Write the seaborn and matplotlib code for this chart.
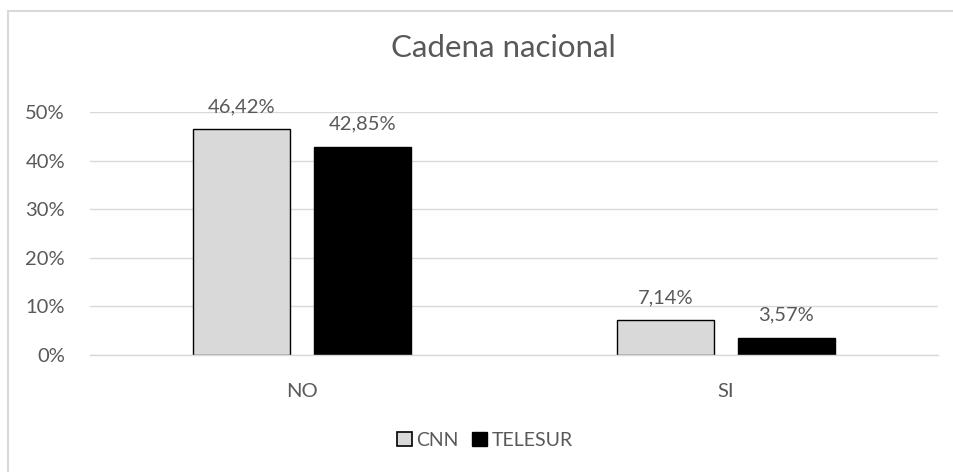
import pandas as pd
import matplotlib.pyplot as plt
import seaborn as sns
from matplotlib.lines import Line2D
from matplotlib.patches import Patch

# data
categories = ['NO', 'SI']
series = ['CNN', 'TELESUR']
cnn_vals = [46.42, 7.14]
telesur_vals = [42.85, 3.57]
label_text = {'CNN': ['46,42%', '7,14%'], 'TELESUR': ['42,85%', '3,57%']}
yticks = [0, 10, 20, 30, 40, 50]
ytick_labels = ['0%', '10%', '20%', '30%', '40%', '50%']

df = pd.DataFrame({
    'respuesta': categories * 2,
    'cadena': ['CNN'] * 2 + ['TELESUR'] * 2,
    'valor': cnn_vals + telesur_vals,
})

sns.set_theme(style='white')
plt.rcParams['font.family'] = ['Lato', 'DejaVu Sans']
txt = '#595959'
grid = '#d9d9d9'

fig = plt.figure(figsize=(9.54, 4.72), dpi=100)
ax = fig.add_axes([90 / 954, 1 - 355 / 472, 848 / 954, (355 - 112) / 472])

sns.barplot(data=df, x='respuesta', y='valor', hue='cadena', hue_order=series,
            palette={'CNN': '#d9d9d9', 'TELESUR': '#000000'},
            width=0.57, gap=0.2, edgecolor='black', linewidth=1.0,
            legend=False, ax=ax)

for cont, s in zip(ax.containers, series):
    ax.bar_label(cont, labels=label_text[s], padding=10, fontsize=14.5, color=txt)

ax.set_ylim(0, 50)
ax.set_yticks(yticks)
ax.set_yticklabels(ytick_labels)
ax.yaxis.grid(True, color=grid, linewidth=1)
ax.set_axisbelow(True)
for sp in ['top', 'right', 'left']:
    ax.spines[sp].set_visible(False)
ax.spines['bottom'].set_color(grid)
ax.spines['bottom'].set_linewidth(1)
ax.tick_params(axis='both', length=0, labelsize=14.5, colors=txt)
ax.tick_params(axis='y', pad=18)
ax.tick_params(axis='x', pad=20)
ax.set_xlabel('')
ax.set_ylabel('')

fig.text(503 / 954, 1 - 48 / 472, 'Cadena nacional', ha='center', va='center',
         fontsize=22.5, color=txt)

handles = [Patch(facecolor='#d9d9d9', edgecolor='black', linewidth=1.2),
           Patch(facecolor='black', edgecolor='black')]
fig.legend(handles, series, loc='center', bbox_to_anchor=(485 / 954, 1 - 440 / 472),
           ncol=2, frameon=False, fontsize=14, labelcolor=txt,
           handlelength=0.75, handleheight=0.75, handletextpad=0.25, columnspacing=0.7)

# chart frame (left and top edges visible in the crop)
fig.add_artist(Line2D([8 / 954, 8 / 954], [0, 1 - 11 / 472], color=grid, linewidth=1.5))
fig.add_artist(Line2D([8 / 954, 1], [1 - 11 / 472, 1 - 11 / 472], color=grid, linewidth=1.5))

fig.savefig('out.png', dpi=100)
